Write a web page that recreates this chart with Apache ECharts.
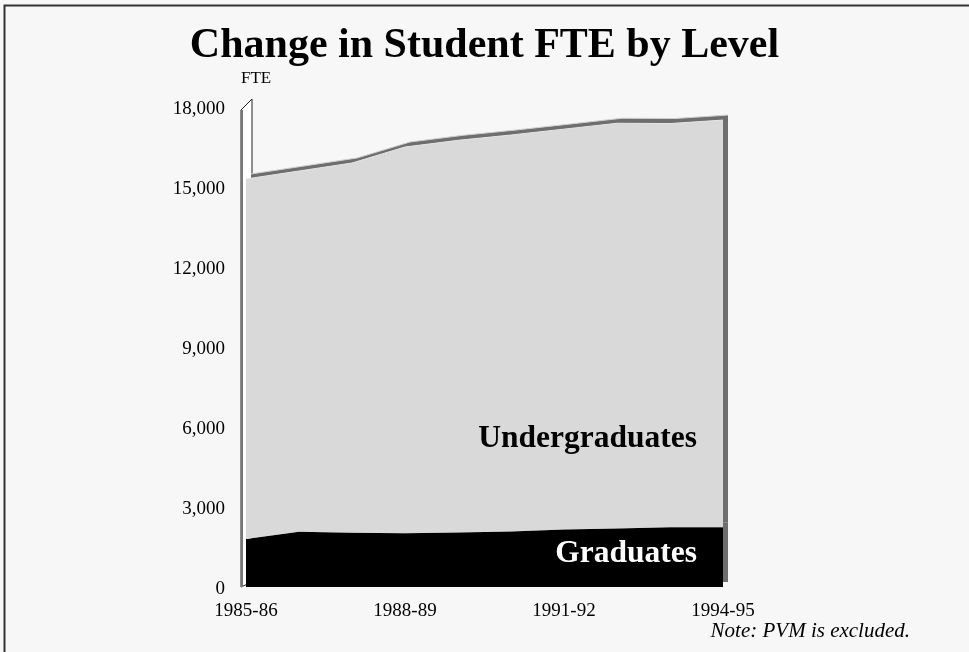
<!DOCTYPE html>
<html><head><meta charset="utf-8">
<script src="https://cdn.jsdelivr.net/npm/echarts@6/dist/echarts.min.js"></script>
<style>html,body{margin:0;padding:0;background:#f7f7f7;} #c{width:969px;height:652px;}</style>
</head><body><div id="c"></div>
<script>
const years = ['1985-86','1986-87','1987-88','1988-89','1989-90','1990-91','1991-92','1992-93','1993-94','1994-95'];
const graduates = [1800, 2070, 2030, 2020, 2040, 2080, 2160, 2190, 2240, 2240];
const undergraduates = [13500, 13530, 13870, 14480, 14710, 14870, 15010, 15200, 15140, 15270];
const yMin = 0, yMax = 18000, yStep = 3000;

const FONT = "'Liberation Serif', 'Times New Roman', serif";
const chart = echarts.init(document.getElementById('c'), null, {renderer: 'canvas'});
const fmt = v => '{a|' + v.toLocaleString('en-US') + '}';

const option = {
  backgroundColor: '#f7f7f7',
  animation: false,
  title: [{
    text: 'Change in Student FTE by Level',
    left: 'center', top: 20,
    textStyle: {fontFamily: FONT, fontWeight: 'bold', fontSize: 42, color: '#000'}
  }],
  grid: [
    {left: 246, top: 107, width: 477, height: 480},
    {left: 251, top: 102, width: 477, height: 480}
  ],
  xAxis: [
    {type: 'category', gridIndex: 0, data: years, boundaryGap: false,
     axisLine: {show: false}, axisTick: {show: false},
     axisLabel: {interval: 2, margin: 15, fontFamily: FONT, fontSize: 19, color: '#000'}},
    {type: 'category', gridIndex: 1, data: years, boundaryGap: false, show: false}
  ],
  yAxis: [
    {type: 'value', gridIndex: 0, min: yMin, max: yMax, interval: yStep,
     axisLine: {show: false}, axisTick: {show: false}, splitLine: {show: false},
     axisLabel: {margin: 21, fontFamily: FONT, fontSize: 19, color: '#000', formatter: fmt,
       rich: {a: {fontFamily: FONT, fontSize: 19, color: '#000', padding: [5, 0, 0, 0]}}}},
    {type: 'value', gridIndex: 1, min: yMin, max: yMax, interval: yStep, show: false}
  ],
  series: [
    {name: 'gback', type: 'line', xAxisIndex: 1, yAxisIndex: 1, stack: 'b', data: graduates,
     symbol: 'none', lineStyle: {width: 0}, areaStyle: {color: '#6e6e6e', opacity: 1}, z: 1, silent: true},
    {name: 'uback', type: 'line', xAxisIndex: 1, yAxisIndex: 1, stack: 'b', data: undergraduates,
     symbol: 'none', lineStyle: {width: 1, color: '#d0d0d0'}, areaStyle: {color: '#6e6e6e', opacity: 1}, z: 1, silent: true},
    {name: 'Graduates', type: 'line', stack: 'f', data: graduates,
     symbol: 'none', lineStyle: {width: 0}, areaStyle: {color: '#000', opacity: 1}, z: 3},
    {name: 'Undergraduates', type: 'line', stack: 'f', data: undergraduates,
     symbol: 'none', lineStyle: {width: 1, color: '#e6e6e6'}, areaStyle: {color: '#d9d9d9', opacity: 1}, z: 3}
  ]
};
chart.setOption(option);

const pTop = chart.convertToPixel({gridIndex: 0}, [years[0], yMax]);
const pBot = chart.convertToPixel({gridIndex: 0}, [years[0], yMin]);
const pBackTop = chart.convertToPixel({gridIndex: 1}, [years[0], yMax]);
const pBackBot = chart.convertToPixel({gridIndex: 1}, [years[0], yMin]);
const wx0 = pTop[0] - 5, wx1 = pBackTop[0] + 1;
chart.setOption({
  graphic: [
    {type: 'rect', left: 2, top: 3, shape: {x: 0, y: 0, width: 2000, height: 2000},
     style: {fill: null, stroke: '#333', lineWidth: 2}, z: 100, silent: true},
    {type: 'polygon', z: 0, shape: {points: [[wx0, pTop[1] + 3], [wx1, pBackTop[1] - 3], [wx1, pBackBot[1]], [wx0, pBot[1]]]},
     style: {fill: '#ffffff', stroke: '#222', lineWidth: 1}, silent: true},
    {type: 'line', z: 0, shape: {x1: wx0 + 1, y1: pTop[1] + 3, x2: wx0 + 1, y2: pBot[1]},
     style: {stroke: '#777', lineWidth: 2}, silent: true},
    {type: 'text', left: pTop[0] - 5, top: 70, z: 10,
     style: {text: 'FTE', font: "17px " + FONT, fill: '#000'}},
    {type: 'text', right: 272, top: 423, z: 10,
     style: {text: 'Undergraduates', font: "bold 31.5px " + FONT, fill: '#000'}},
    {type: 'text', right: 272, top: 538, z: 10,
     style: {text: 'Graduates', font: "bold 31.5px " + FONT, fill: '#fff'}},
    {type: 'text', right: 59, top: 621, z: 10,
     style: {text: 'Note: PVM is excluded.', font: "italic 21px " + FONT, fill: '#000'}}
  ]
});
</script></body></html>
